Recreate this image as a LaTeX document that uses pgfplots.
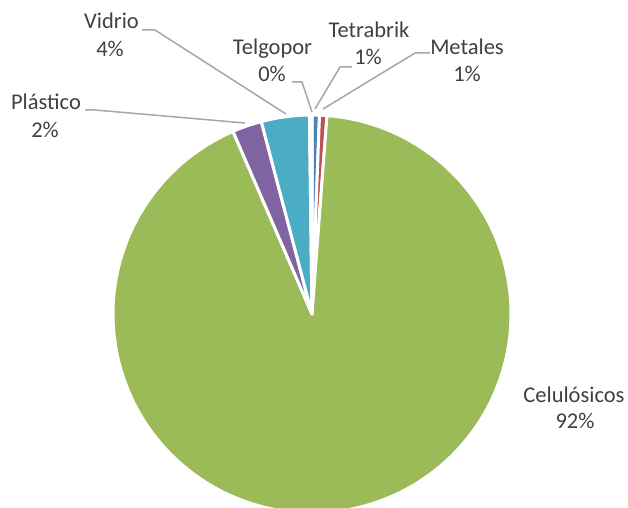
\documentclass[border=0pt]{standalone}
\usepackage{pgfplots}
\pgfplotsset{compat=1.18}
\usepackage{fontspec}
\setmainfont{Carlito}
\definecolor{cBlue}{HTML}{4F81BD}
\definecolor{cRed}{HTML}{C0504D}
\definecolor{cGreen}{HTML}{9BBB59}
\definecolor{cPurple}{HTML}{8064A2}
\definecolor{cAqua}{HTML}{4BACC6}
\definecolor{cOrange}{HTML}{F79646}
\definecolor{lbl}{HTML}{404040}
\definecolor{lead}{HTML}{A6A6A6}
% shares (percent), clockwise from 12 o'clock
\def\pTetrabrik{0.6}
\def\pMetales{0.6}
\def\pCelulosicos{92.3}
\def\pPlastico{2.4}
\def\pVidrio{3.9}
\def\pTelgopor{0.2}
% pie centre and radius (picture units = px)
\def\cx{312}\def\cy{314}\def\rr{199}
\newcommand\pieslice[3]{%
  \addplot[fill=#3, draw=white, line width=3bp, line join=round,
    domain={3.6*(#1)}:{3.6*(#2)}, samples=150, variable=\t]
    ({\cx+\rr*sin(t)},{\cy-\rr*cos(t)}) -- (axis cs:\cx,\cy) -- cycle;}
\begin{document}
\begin{tikzpicture}
\begin{axis}[
  width=628bp, height=508bp, scale only axis,
  xmin=0, xmax=628, ymin=0, ymax=508, y dir=reverse,
  hide axis, clip=true,
]
\pieslice{0}{\pTetrabrik}{cBlue}
\pieslice{\pTetrabrik}{\pTetrabrik+\pMetales}{cRed}
\pieslice{\pTetrabrik+\pMetales}{\pTetrabrik+\pMetales+\pCelulosicos}{cGreen}
\pieslice{\pTetrabrik+\pMetales+\pCelulosicos}{\pTetrabrik+\pMetales+\pCelulosicos+\pPlastico}{cPurple}
\pieslice{\pTetrabrik+\pMetales+\pCelulosicos+\pPlastico}{\pTetrabrik+\pMetales+\pCelulosicos+\pPlastico+\pVidrio}{cAqua}
\pieslice{100-\pTelgopor}{100}{cOrange}
% leader lines
\draw[lead, line width=1.5bp] (axis cs:142,30) -- (axis cs:155,30) -- (axis cs:286,114);
\draw[lead, line width=1.5bp] (axis cs:292,82) -- (axis cs:302,82) -- (axis cs:312,112);
\draw[lead, line width=1.5bp] (axis cs:352,67) -- (axis cs:340,67) -- (axis cs:315,109);
\draw[lead, line width=1.5bp] (axis cs:430,53) -- (axis cs:415,53) -- (axis cs:323,109);
\draw[lead, line width=1.5bp] (axis cs:85,110) -- (axis cs:95,110) -- (axis cs:245,123);
% labels
\begin{scope}[every node/.style={text=lbl, font=\fontsize{22.5bp}{27bp}\selectfont, anchor=base, inner sep=0pt}]
\node at (axis cs:111.5,29) {Vidrio};
\node at (axis cs:110,57) {4\%};
\node at (axis cs:272.5,55) {Telgopor};
\node at (axis cs:272,82) {0\%};
\node at (axis cs:369,38) {Tetrabrik};
\node at (axis cs:368,65) {1\%};
\node at (axis cs:467,55) {Metales};
\node at (axis cs:467,82) {1\%};
\node at (axis cs:46,109) {Plástico};
\node at (axis cs:45,137) {2\%};
\node at (axis cs:574,402) {Celulósicos};
\node at (axis cs:575,428) {92\%};
\end{scope}
\end{axis}
\pgfresetboundingbox
\useasboundingbox (current axis.south west) rectangle (current axis.north east);
\end{tikzpicture}
\end{document}
